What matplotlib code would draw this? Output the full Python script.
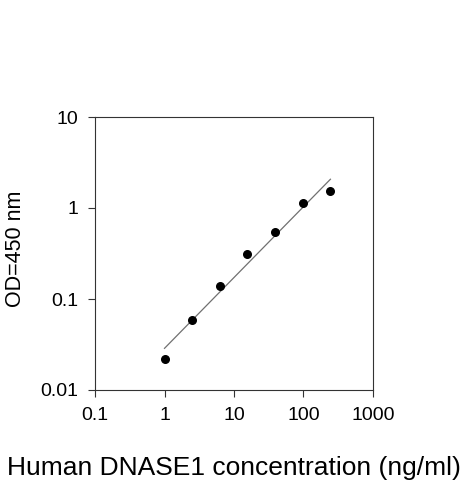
import numpy as np
import matplotlib.pyplot as plt

plt.rcParams['font.family'] = ['Liberation Sans', 'DejaVu Sans']

# standards: concentration (ng/ml) and OD450
conc = [1.0, 2.5, 6.25, 15.6, 39.0, 97.7, 244.0]
od = [0.0219, 0.0583, 0.138, 0.31, 0.55, 1.14, 1.52]

# fitted line end points
fit_x = [1.0, 244.0]
fit_y = [0.0287, 2.07]

x_ticks = [0.1, 1, 10, 100, 1000]
x_labels = ['0.1', '1', '10', '100', '1000']
y_ticks = [0.01, 0.1, 1, 10]
y_labels = ['0.01', '0.1', '1', '10']

fig = plt.figure(figsize=(4.63, 4.8), dpi=100)
ax = fig.add_axes([0.2052, 0.1875, 0.6004, 0.56875])

ax.plot(fit_x, fit_y, color='#707070', lw=0.9)
ax.scatter(conc, od, s=30, color='black', zorder=3)

ax.set_xscale('log')
ax.set_yscale('log')
ax.set_xlim(0.1, 1000)
ax.set_ylim(0.01, 10)
ax.set_xticks(x_ticks)
ax.set_xticklabels(x_labels)
ax.set_yticks(y_ticks)
ax.set_yticklabels(y_labels)
ax.minorticks_off()
ax.tick_params(direction='out', length=5, width=0.8, color='#333333', labelsize=14)
ax.tick_params(axis='x', pad=7)
ax.tick_params(axis='y', pad=7)
for s in ax.spines.values():
    s.set_color('#333333')
    s.set_linewidth(0.8)

ax.set_ylabel('OD=450 nm', fontsize=15.5)
ax.yaxis.set_label_coords(-0.25, 0.518)
ax.set_xlabel('Human DNASE1 concentration (ng/ml)', fontsize=19, labelpad=23)

plt.savefig('out.png', dpi=100)
